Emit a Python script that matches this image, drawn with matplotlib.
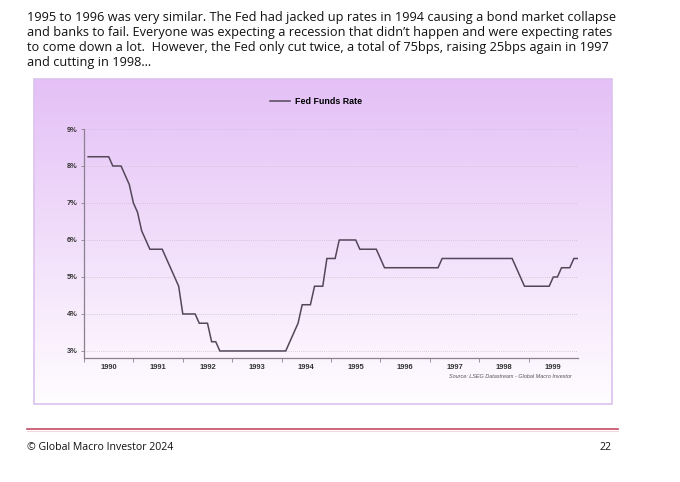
import numpy as np
import matplotlib
matplotlib.use("Agg")
import matplotlib.pyplot as plt
from matplotlib.patches import Rectangle
from matplotlib.lines import Line2D

# ---------------- data ----------------
years = [1990, 1991, 1992, 1993, 1994, 1995, 1996, 1997, 1998, 1999]
rates_1990 = [8.25, 8.25, 8.25, 8.25, 8.25, 8.25, 8.0, 8.0, 8.0, 7.75, 7.5, 7.0]
rates_1991 = [6.75, 6.25, 6.0, 5.75, 5.75, 5.75, 5.75, 5.5, 5.25, 5.0, 4.75, 4.0]
rates_1992 = [4.0, 4.0, 4.0, 3.75, 3.75, 3.75, 3.25, 3.25, 3.0, 3.0, 3.0, 3.0]
rates_1993 = [3.0, 3.0, 3.0, 3.0, 3.0, 3.0, 3.0, 3.0, 3.0, 3.0, 3.0, 3.0]
rates_1994 = [3.0, 3.25, 3.5, 3.75, 4.25, 4.25, 4.25, 4.75, 4.75, 4.75, 5.5, 5.5]
rates_1995 = [5.5, 6.0, 6.0, 6.0, 6.0, 6.0, 5.75, 5.75, 5.75, 5.75, 5.75, 5.5]
rates_1996 = [5.25, 5.25, 5.25, 5.25, 5.25, 5.25, 5.25, 5.25, 5.25, 5.25, 5.25, 5.25]
rates_1997 = [5.25, 5.25, 5.5, 5.5, 5.5, 5.5, 5.5, 5.5, 5.5, 5.5, 5.5, 5.5]
rates_1998 = [5.5, 5.5, 5.5, 5.5, 5.5, 5.5, 5.5, 5.5, 5.25, 5.0, 4.75, 4.75]
rates_1999 = [4.75, 4.75, 4.75, 4.75, 4.75, 5.0, 5.0, 5.25, 5.25, 5.25, 5.5, 5.5]
yearly_rates = [rates_1990, rates_1991, rates_1992, rates_1993, rates_1994,
                rates_1995, rates_1996, rates_1997, rates_1998, rates_1999]
y_ticks = [3, 4, 5, 6, 7, 8, 9]
y_labels = ["3%", "4%", "5%", "6%", "7%", "8%", "9%"]
x_labels = [str(y) for y in years]
series_name = "Fed Funds Rate"
source_text = "Source: LSEG Datastream - Global Macro Investor"
title_lines = [
    "1995 to 1996 was very similar. The Fed had jacked up rates in 1994 causing a bond market collapse",
    "and banks to fail. Everyone was expecting a recession that didn\u2019t happen and were expecting rates",
    "to come down a lot.  However, the Fed only cut twice, a total of 75bps, raising 25bps again in 1997",
    "and cutting in 1998\u2026",
]
footer_left = "\u00a9 Global Macro Investor 2024"
footer_right = "22"

# month-end positions (decimal years)
x_vals = []
y_vals = []
for yr, vals in zip(years, yearly_rates):
    for m, v in enumerate(vals, start=1):
        x_vals.append(yr + m / 12.0)
        y_vals.append(v)

# ---------------- figure ----------------
W, H = 680, 482
fig = plt.figure(figsize=(W / 100, H / 100), dpi=100)
fig.patch.set_facecolor("white")

def fx(px):
    return px / W

def fy(py):
    return 1 - py / H

# gradient panel
pl, pr, pt, pb = 34, 612, 79, 404
bg = fig.add_axes([fx(pl), fy(pb), fx(pr - pl), fy(pt) - fy(pb)])
bg.set_axis_off()
top_c = np.array([0xe4, 0xc0, 0xf6]) / 255.0
bot_c = np.array([0xff, 0xfd, 0xff]) / 255.0
t = np.linspace(0, 1, 256)[:, None]
grad = top_c[None, :] * (1 - t) + bot_c[None, :] * t
grad = np.repeat(grad[:, None, :], 2, axis=1)
bg.imshow(grad, aspect="auto", extent=[0, 1, 0, 1], origin="upper")
bg.set_xlim(0, 1)
bg.set_ylim(0, 1)
fig.patches.append(Rectangle((fx(pl), fy(pb)), fx(pr - pl), fy(pt) - fy(pb),
                             transform=fig.transFigure, fill=False,
                             edgecolor="#dcc2ee", linewidth=1.2))

# main axes
al, ar, at_, ab = 84, 578, 129, 358
ax = fig.add_axes([fx(al), fy(ab), fx(ar - al), fy(at_) - fy(ab)])
ax.patch.set_alpha(0)
ax.plot(x_vals, y_vals, color="#55475a", linewidth=1.1, label=series_name,
        solid_joinstyle="miter")
ax.set_xlim(1990, 2000)
ax.set_ylim(2.81, 9.0)
for s in ["top", "right"]:
    ax.spines[s].set_visible(False)
for s in ["left", "bottom"]:
    ax.spines[s].set_color("#8a8090")
    ax.spines[s].set_linewidth(0.9)

ax.set_yticks(y_ticks)
ax.set_yticklabels(y_labels, fontsize=5.4, fontweight="bold",
                   fontfamily="Liberation Sans", color="#333333")
ax.tick_params(axis="y", length=2.5, width=0.6, color="#8a8090", pad=2)
ax.yaxis.grid(True, linestyle=(0, (1, 1.5)), color="#cbbfd0", linewidth=0.6)

ax.set_xticks([y for y in years])
ax.set_xticklabels([])
ax.tick_params(axis="x", which="major", length=3, width=0.6, color="#8a8090")
ax.set_xticks([y + 0.5 for y in years], minor=True)
ax.set_xticklabels(x_labels, minor=True, fontsize=5.4, fontweight="bold",
                   fontfamily="Liberation Sans", color="#333333")
ax.tick_params(axis="x", which="minor", length=0, pad=4.5)

leg = ax.legend(loc="center", bbox_to_anchor=(fx(316), fy(102)),
                bbox_transform=fig.transFigure, frameon=False,
                handlelength=2.2, handletextpad=0.6,
                prop={"family": "Liberation Sans", "weight": "bold", "size": 6.4})

fig.text(fx(572), fy(377), source_text, ha="right", va="center",
         fontsize=3.95, style="italic", fontfamily="Liberation Sans", color="#555555")

# title text
for i, line in enumerate(title_lines):
    fig.text(fx(27), fy(18 + i * 14.7), line, ha="left", va="center",
             fontsize=9.2, fontfamily="Open Sans", color="#111111")

# footer
fig.add_artist(Line2D([fx(27), fx(618)], [fy(429), fy(429)],
                      transform=fig.transFigure, color="#c24b66", linewidth=1.2))
fig.add_artist(Line2D([fx(27), fx(618)], [fy(430.5), fy(430.5)],
                      transform=fig.transFigure, color="#f0d8de", linewidth=0.8))
fig.text(fx(27), fy(448), footer_left, ha="left", va="center",
         fontsize=7.6, fontfamily="Open Sans", color="#111111")
fig.text(fx(611), fy(448), footer_right, ha="right", va="center",
         fontsize=7.6, fontfamily="Open Sans", color="#111111")

fig.savefig("out.png", dpi=100)
